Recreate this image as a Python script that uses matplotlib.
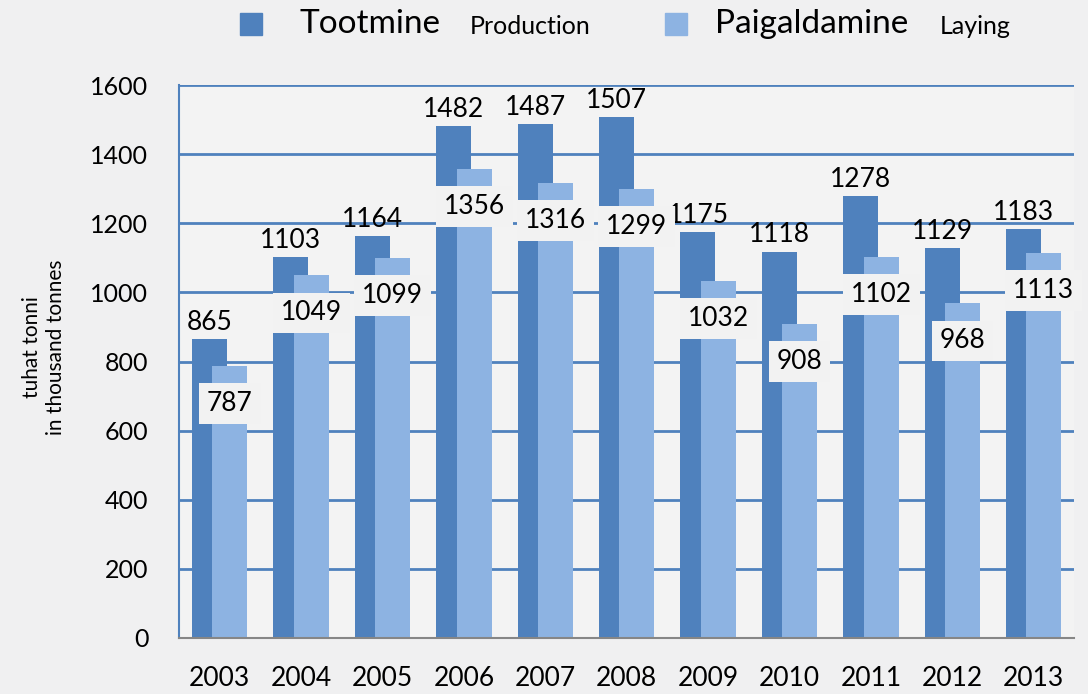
import matplotlib.pyplot as plt
import matplotlib.patches as mpatches
import numpy as np

plt.rcParams['font.family'] = ['Lato', 'DejaVu Sans']

# data (thousand tonnes)
years = ['2003', '2004', '2005', '2006', '2007', '2008', '2009', '2010', '2011', '2012', '2013']
production = [865, 1103, 1164, 1482, 1487, 1507, 1175, 1118, 1278, 1129, 1183]
laying = [787, 1049, 1099, 1356, 1316, 1299, 1032, 908, 1102, 968, 1113]

dark = '#4f81bd'
light = '#8db3e2'
bg = '#f2f2f2'

fig = plt.figure(figsize=(10.88, 6.94), dpi=100)
fig.patch.set_facecolor('#f0f0f1')
ax = fig.add_axes([0.1645, 0.0807, 0.823, 0.7968])
ax.set_facecolor('#f3f3f3')

x = np.arange(len(years))
w = 0.43
off = 0.125

ax.bar(x - off, production, w, color=dark, zorder=3)
ax.bar(x + off, laying, w, color=light, zorder=4)

# value labels
for xi, v in zip(x, production):
    ax.annotate(str(v), (xi - off, v), xytext=(0, 3), textcoords='offset points',
                ha='center', va='bottom', fontsize=19, zorder=6)
for xi, v in zip(x, laying):
    ax.annotate(str(v), (xi + off, v), xytext=(0, -27), textcoords='offset points',
                ha='center', va='center', fontsize=19, zorder=6,
                bbox=dict(boxstyle='square,pad=0.3', fc=bg, ec='none'))

ax.set_xlim(-0.5, len(years) - 0.5)
ax.set_ylim(0, 1600)
ax.set_yticks(np.arange(0, 1601, 200))
ax.set_xticks(x)
ax.set_xticklabels(years)

# horizontal grid lines
for yv in np.arange(200, 1601, 200):
    ax.axhline(yv, color=dark, lw=2, zorder=1)

for s in ['top', 'right']:
    ax.spines[s].set_visible(False)
ax.spines['left'].set_color(dark)
ax.spines['left'].set_linewidth(1.5)
ax.spines['bottom'].set_color('#868686')
ax.spines['bottom'].set_linewidth(1.5)
ax.spines['bottom'].set_zorder(5)
ax.tick_params(axis='both', length=0)
ax.tick_params(axis='y', pad=22, labelsize=18)
ax.tick_params(axis='x', pad=20, labelsize=19)

fig.text(0.04, 0.5, 'tuhat tonni\nin thousand tonnes', rotation=90,
         ha='center', va='center', fontsize=15, linespacing=1.25)

# legend
fig.patches.append(mpatches.Rectangle((240 / 1088, 1 - 35 / 694), 22 / 1088, 22 / 694,
                                      transform=fig.transFigure, color=dark))
fig.text(300 / 1088, 1 - 24 / 694, 'Tootmine', fontsize=24, va='center')
fig.text(470 / 1088, 1 - 27 / 694, 'Production', fontsize=18, va='center')
fig.patches.append(mpatches.Rectangle((665 / 1088, 1 - 35 / 694), 22 / 1088, 22 / 694,
                                      transform=fig.transFigure, color=light))
fig.text(715 / 1088, 1 - 24 / 694, 'Paigaldamine', fontsize=24, va='center')
fig.text(940 / 1088, 1 - 27 / 694, 'Laying', fontsize=18, va='center')

plt.savefig('out.png', dpi=100, facecolor=fig.get_facecolor())
